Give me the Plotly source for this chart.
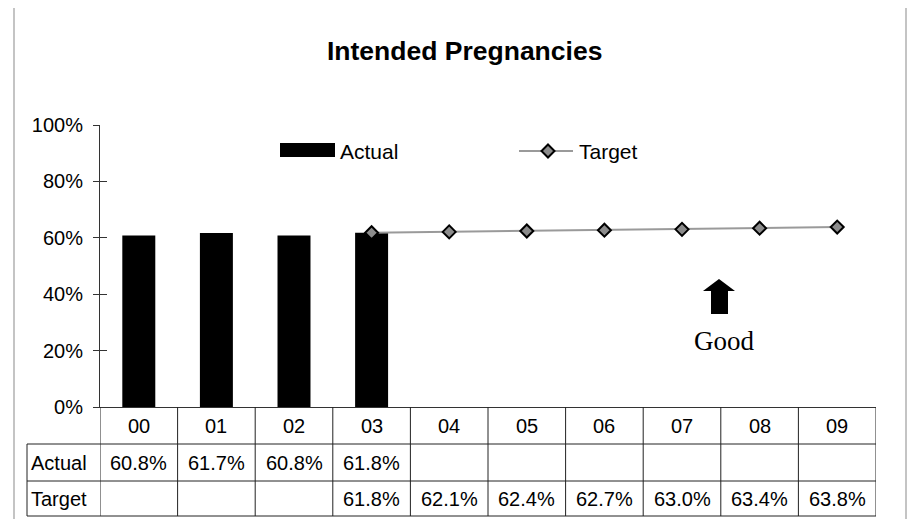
import plotly.graph_objects as go

# ---- data ----
years = ["00", "01", "02", "03", "04", "05", "06", "07", "08", "09"]
actual = [0.608, 0.617, 0.608, 0.618, None, None, None, None, None, None]
target = [None, None, None, 0.618, 0.621, 0.624, 0.627, 0.630, 0.634, 0.638]
y_ticks = [0, 0.2, 0.4, 0.6, 0.8, 1.0]
y_tick_labels = ["0%", "20%", "40%", "60%", "80%", "100%"]
title_text = "Intended Pregnancies"
row_labels = ["Actual", "Target"]

# ---- layout geometry (screen pixels; page body has an 8px margin) ----
OFF = 8
W, H = 915 - 2 * OFF, 527 - 2 * OFF
SL, SR, ST, SB = 100, 876, 125, 407          # plot area in screen px
L, R, T, B = SL - OFF, SR - OFF, ST - OFF, SB - OFF
PW, PH = R - L, B - T
FONT = "Liberation Sans, Arial, sans-serif"


def X(sx):
    return (sx - SL) / PW


def Y(sy):
    return (SB - sy) / PH


fig = go.Figure()
fig.add_trace(go.Bar(
    x=years, y=actual, name="Actual",
    marker=dict(color="black", line=dict(width=0)),
    width=0.425, showlegend=False,
))
fig.add_trace(go.Scatter(
    x=years, y=target, name="Target", mode="lines+markers",
    line=dict(color="#9a9a9a", width=2),
    marker=dict(symbol="diamond", size=10, color="#8c8c8c",
                line=dict(color="black", width=2)),
    showlegend=False,
))
# invisible trace for inner half of crossing ticks
fig.add_trace(go.Scatter(x=[years[0]], y=[None], yaxis="y2", showlegend=False,
                         hoverinfo="skip"))

shapes = []
annotations = []

# outer frame (left and right edges)
frame = dict(color="#c4c4c4", width=2)
shapes.append(dict(type="line", xref="paper", yref="paper",
                   x0=X(14), x1=X(14), y0=Y(8), y1=Y(530), line=frame, layer="below"))
shapes.append(dict(type="line", xref="paper", yref="paper",
                   x0=X(906), x1=X(906), y0=Y(8), y1=Y(530), line=frame, layer="below"))

# data table grid
line_style = dict(color="#222222", width=1)
for sy in [444, 481, 516]:
    shapes.append(dict(type="line", xref="paper", yref="paper",
                       x0=X(27), x1=X(876), y0=Y(sy), y1=Y(sy), line=line_style))
shapes.append(dict(type="line", xref="paper", yref="paper",
                   x0=X(27), x1=X(27), y0=Y(444), y1=Y(516), line=line_style))
for i in range(len(years) + 1):
    shapes.append(dict(type="line", xref="x", yref="paper",
                       x0=i - 0.5, x1=i - 0.5, y0=Y(407), y1=Y(516), line=line_style))

cell_font = dict(size=20, family=FONT, color="black")
for i, yr in enumerate(years):
    annotations.append(dict(x=yr, xref="x", yref="paper", y=Y(425.5), text=yr,
                            showarrow=False, font=cell_font,
                            xanchor="center", yanchor="middle"))
    if actual[i] is not None:
        annotations.append(dict(x=yr, xref="x", yref="paper", y=Y(462.5),
                                text=f"{actual[i]*100:.1f}%", showarrow=False,
                                font=cell_font, xanchor="center", yanchor="middle"))
    if target[i] is not None:
        annotations.append(dict(x=yr, xref="x", yref="paper", y=Y(498.5),
                                text=f"{target[i]*100:.1f}%", showarrow=False,
                                font=cell_font, xanchor="center", yanchor="middle"))
for lab, sy in zip(row_labels, [462.5, 498.5]):
    annotations.append(dict(x=X(29), xref="paper", yref="paper", y=Y(sy), text=lab,
                            showarrow=False, font=cell_font,
                            xanchor="left", yanchor="middle"))

# title
annotations.append(dict(x=X(464.5), y=Y(51), xref="paper", yref="paper",
                        text=f"<b>{title_text}</b>", showarrow=False,
                        font=dict(size=26.5, family=FONT, color="black"),
                        xanchor="center", yanchor="middle"))

# legend (manual)
shapes.append(dict(type="rect", xref="paper", yref="paper",
                   x0=X(280), x1=X(335), y0=Y(157), y1=Y(143),
                   fillcolor="black", line=dict(width=0)))
annotations.append(dict(x=X(338), y=Y(151), xref="paper", yref="paper", text="Actual",
                        showarrow=False, font=dict(size=21, family=FONT, color="black"),
                        xanchor="left", yanchor="middle"))
shapes.append(dict(type="line", xref="paper", yref="paper",
                   x0=X(519), x1=X(573), y0=Y(151), y1=Y(151),
                   line=dict(color="#9a9a9a", width=2)))


def path(pts):
    return "M" + " L".join(f"{X(a):.5f},{Y(b):.5f}" for a, b in pts) + " Z"


shapes.append(dict(type="path", xref="paper", yref="paper",
                   path=path([(548, 144.5), (554.5, 151), (548, 157.5), (541.5, 151)]),
                   fillcolor="#8c8c8c", line=dict(color="black", width=2)))
annotations.append(dict(x=X(577), y=Y(151), xref="paper", yref="paper", text="Target",
                        showarrow=False, font=dict(size=21, family=FONT, color="black"),
                        xanchor="left", yanchor="middle"))

# "Good" arrow
shapes.append(dict(type="path", xref="paper", yref="paper",
                   path=path([(719, 279), (735, 291), (728, 291), (728, 314),
                              (711, 314), (711, 291), (703, 291)]),
                   fillcolor="black", line=dict(width=0)))
annotations.append(dict(x=X(723.5), y=Y(341), xref="paper", yref="paper", text="Good",
                        showarrow=False,
                        font=dict(size=27, family="Liberation Serif, Times New Roman, serif",
                                  color="black"),
                        xanchor="center", yanchor="middle"))

fig.update_layout(
    width=W, height=H,
    margin=dict(l=L, r=W - R, t=T, b=H - B, pad=0),
    paper_bgcolor="white", plot_bgcolor="white",
    showlegend=False,
    xaxis=dict(type="category", categoryorder="array", categoryarray=years,
               range=[-0.5, len(years) - 0.5], showticklabels=False, ticks="",
               showgrid=False, zeroline=False, showline=True,
               linecolor="#333333", linewidth=1, fixedrange=True),
    yaxis=dict(range=[0, 1], tickvals=y_ticks, ticktext=y_tick_labels,
               ticks="outside", ticklen=6, tickwidth=1, tickcolor="#333333",
               showgrid=False, zeroline=False, showline=True,
               linecolor="#333333", linewidth=1,
               tickfont=dict(size=20, family=FONT, color="black"),
               ticklabelstandoff=6),
    yaxis2=dict(range=[0, 1], overlaying="y", side="left", tickvals=y_ticks,
                showticklabels=False, ticks="inside", ticklen=7, tickwidth=1,
                tickcolor="#333333", showgrid=False, zeroline=False, showline=False),
    shapes=shapes,
    annotations=annotations,
    bargap=0.575,
)

fig.write_html("out.html")
